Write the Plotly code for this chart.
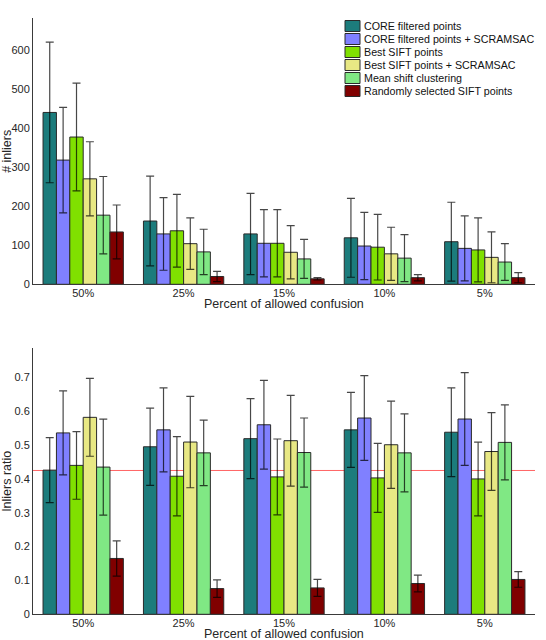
import plotly.graph_objects as go

W, H = 546, 640

categories = ["50%", "25%", "15%", "10%", "5%"]
series_names = [
    "CORE filtered points",
    "CORE filtered points + SCRAMSAC",
    "Best SIFT points",
    "Best SIFT points + SCRAMSAC",
    "Mean shift clustering",
    "Randomly selected SIFT points",
]
colors = ["#1c7c7c", "#8080ff", "#80e000", "#e8e884", "#80e884", "#800000"]

# Top: number of inliers (mean, std)
inl_core = [440, 162, 129, 119, 109]
inl_core_err = [180, 115, 104, 101, 101]
inl_core_scr = [318, 129, 105, 98, 92]
inl_core_scr_err = [135, 93, 86, 86, 83]
inl_sift = [377, 137, 105, 95, 88]
inl_sift_err = [138, 93, 86, 84, 82]
inl_sift_scr = [270, 104, 82, 78, 69]
inl_sift_scr_err = [95, 66, 68, 68, 65]
inl_ms = [177, 83, 65, 67, 57]
inl_ms_err = [99, 58, 50, 60, 47]
inl_rnd = [134, 20, 14, 17, 17]
inl_rnd_err = [69, 13, 3, 8, 13]

# Bottom: inliers ratio (mean, std)
rat_core = [0.426, 0.495, 0.519, 0.545, 0.538]
rat_core_err = [0.096, 0.114, 0.118, 0.111, 0.131]
rat_core_scr = [0.536, 0.545, 0.560, 0.580, 0.577]
rat_core_scr_err = [0.124, 0.124, 0.131, 0.125, 0.137]
rat_sift = [0.440, 0.408, 0.406, 0.403, 0.400]
rat_sift_err = [0.100, 0.117, 0.112, 0.102, 0.109]
rat_sift_scr = [0.582, 0.509, 0.513, 0.501, 0.481]
rat_sift_scr_err = [0.115, 0.135, 0.134, 0.129, 0.115]
rat_ms = [0.435, 0.477, 0.478, 0.477, 0.508]
rat_ms_err = [0.142, 0.097, 0.102, 0.115, 0.111]
rat_rnd = [0.165, 0.076, 0.078, 0.091, 0.103]
rat_rnd_err = [0.052, 0.026, 0.025, 0.025, 0.023]

baseline_ratio = 0.425

x_title = "Percent of allowed confusion"

top_vals = [inl_core, inl_core_scr, inl_sift, inl_sift_scr, inl_ms, inl_rnd]
top_errs = [inl_core_err, inl_core_scr_err, inl_sift_err, inl_sift_scr_err, inl_ms_err, inl_rnd_err]
bot_vals = [rat_core, rat_core_scr, rat_sift, rat_sift_scr, rat_ms, rat_rnd]
bot_errs = [rat_core_err, rat_core_scr_err, rat_sift_err, rat_sift_scr_err, rat_ms_err, rat_rnd_err]

FONT = "Liberation Sans, Arial, Helvetica, sans-serif"
TXT = "#262626"

fig = go.Figure()
for name, col, v, e in zip(series_names, colors, top_vals, top_errs):
    fig.add_trace(go.Bar(
        x=categories, y=v, name=name, marker=dict(color=col, line=dict(color="#2a2a2a", width=1)),
        error_y=dict(type="data", array=e, visible=True, color="rgba(0,0,0,0.72)", thickness=1.2, width=4),
        xaxis="x", yaxis="y", showlegend=False,
    ))
for name, col, v, e in zip(series_names, colors, bot_vals, bot_errs):
    fig.add_trace(go.Bar(
        x=categories, y=v, name=name, marker=dict(color=col, line=dict(color="#2a2a2a", width=1)),
        error_y=dict(type="data", array=e, visible=True, color="rgba(0,0,0,0.72)", thickness=1.2, width=4),
        xaxis="x2", yaxis="y2", showlegend=False,
    ))

xdom = [33 / W, 535 / W]
ytop_dom = [1 - 284.3 / H, 1 - 18.3 / H]
ybot_dom = [1 - 614.3 / H, 1 - 348.3 / H]

axis_common = dict(showline=True, linecolor="#3a3a3a", linewidth=1, ticks="", showgrid=False,
                   zeroline=False, tickfont=dict(family=FONT, size=11, color=TXT), automargin=False)

fig.update_layout(
    width=W, height=H, margin=dict(l=0, r=0, t=0, b=0),
    paper_bgcolor="white", plot_bgcolor="white",
    barmode="group", bargap=0.2, bargroupgap=0,
    font=dict(family=FONT, size=11, color=TXT),
    xaxis=dict(domain=xdom, anchor="y", type="category", range=[-0.5, 4.5], ticklabelstandoff=-2,
               **axis_common),
    yaxis=dict(domain=ytop_dom, anchor="x", range=[0, 681], tickvals=[0, 100, 200, 300, 400, 500, 600],
               title=dict(text="# inliers", font=dict(family=FONT, size=12.5, color=TXT), standoff=2),
               **axis_common),
    xaxis2=dict(domain=xdom, anchor="y2", type="category", range=[-0.5, 4.5], ticklabelstandoff=-2,
                **axis_common),
    yaxis2=dict(domain=ybot_dom, anchor="x2", range=[0, 0.786], tick0=0, dtick=0.1,
                title=dict(text="Inliers ratio", font=dict(family=FONT, size=12.5, color=TXT), standoff=2),
                **axis_common),
)

# X-axis titles placed just under the tick labels
for yc in (304, 634):
    fig.add_annotation(xref="paper", yref="paper", x=(xdom[0] + xdom[1]) / 2, y=1 - yc / H,
                       text=x_title, showarrow=False, xanchor="center", yanchor="middle",
                       font=dict(family=FONT, size=12.5, color=TXT))

# Baseline line in lower plot
fig.add_shape(type="line", xref="x2 domain", yref="y2", x0=0, x1=1, y0=baseline_ratio, y1=baseline_ratio,
              line=dict(color="#ff6464", width=1), layer="below")

# Manual compact legend (as in the reference)
row0, step = 26, 13
for i, (name, col) in enumerate(zip(series_names, colors)):
    cy = row0 + i * step
    fig.add_shape(type="rect", xref="paper", yref="paper",
                  x0=345 / W, x1=360 / W, y0=1 - (cy + 5.5) / H, y1=1 - (cy - 5.5) / H,
                  fillcolor=col, line=dict(color="#2a2a2a", width=1))
    fig.add_annotation(xref="paper", yref="paper", x=361.5 / W, y=1 - cy / H, text=name,
                       showarrow=False, xanchor="left", yanchor="middle",
                       font=dict(family=FONT, size=10.7, color="#111"))

fig.write_html("out.html")
